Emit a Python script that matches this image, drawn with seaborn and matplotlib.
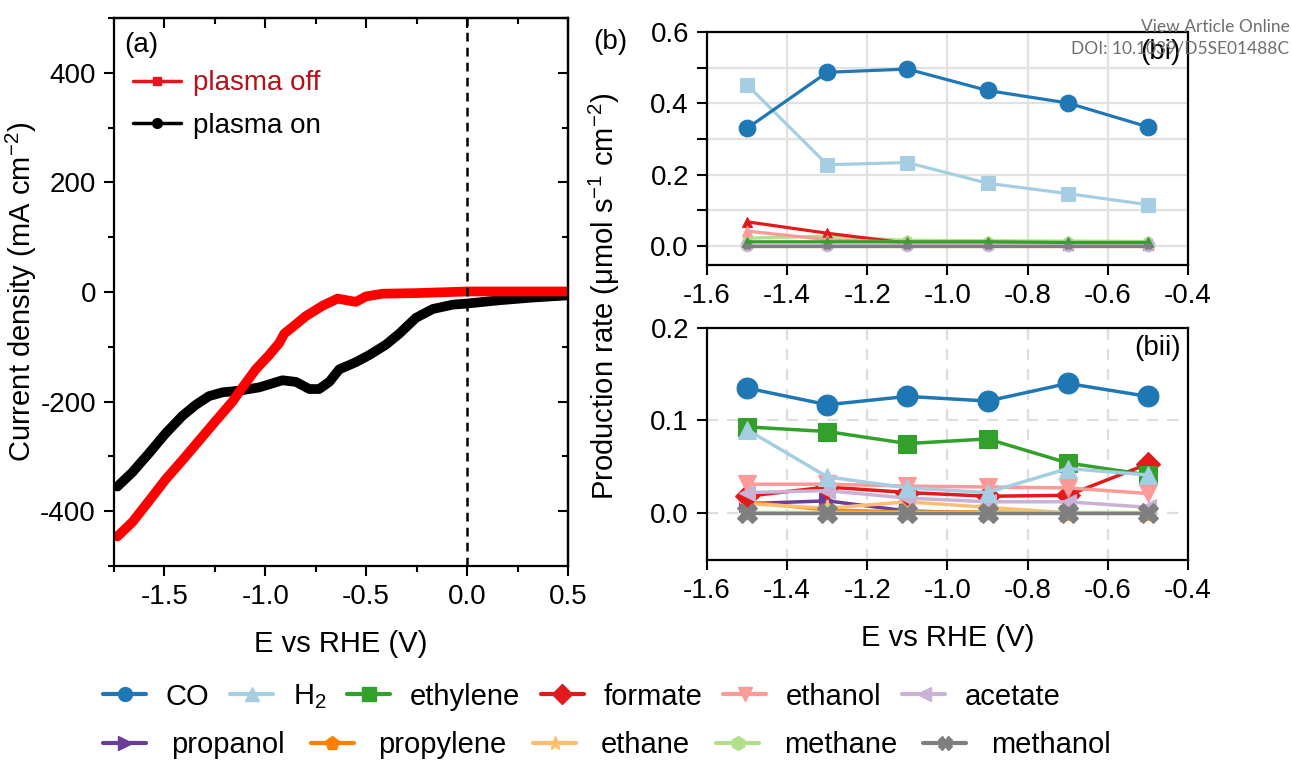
import numpy as np
import pandas as pd
import matplotlib
matplotlib.use("Agg")
import matplotlib.pyplot as plt
import seaborn as sns
from matplotlib.lines import Line2D
from matplotlib.ticker import MultipleLocator

# ---------------- data ----------------
# Panel (a): LSV curves
off_E = [-1.733, -1.659, -1.576, -1.494, -1.411, -1.328, -1.245, -1.163, -1.113, -1.047,
         -0.981, -0.931, -0.906, -0.865, -0.799, -0.716, -0.642, -0.551, -0.501, -0.418,
         -0.253, 0.0, 0.25, 0.5]
off_j = [-446, -420, -381, -342, -307, -271, -235, -200, -174, -141,
         -115, -93, -76, -64, -44, -25, -12, -18, -8, -3,
         -2, 1, 1, 1]
on_E = [-1.733, -1.659, -1.576, -1.494, -1.411, -1.345, -1.279, -1.212, -1.130, -1.030,
        -0.915, -0.848, -0.782, -0.733, -0.683, -0.633, -0.551, -0.485, -0.402, -0.336,
        -0.253, -0.170, -0.071, 0.0, 0.160, 0.326, 0.5]
on_j = [-355, -329, -294, -258, -226, -206, -190, -183, -180, -174,
        -161, -164, -177, -177, -164, -141, -128, -115, -96, -76,
        -47, -31, -23, -21, -15, -10, -6]

# Panel (b): production rates
E_b = [-1.5, -1.3, -1.1, -0.9, -0.7, -0.5]
products = ["CO", "H2", "ethylene", "formate", "ethanol", "acetate",
            "propanol", "propylene", "ethane", "methane", "methanol"]
labels = ["CO", "H$_2$", "ethylene", "formate", "ethanol", "acetate",
          "propanol", "propylene", "ethane", "methane", "methanol"]

bi_CO = [0.330, 0.487, 0.496, 0.436, 0.401, 0.334]
bi_H2 = [0.452, 0.228, 0.234, 0.176, 0.147, 0.116]
bi_ethylene = [0.012, 0.012, 0.012, 0.012, 0.010, 0.010]
bi_formate = [0.068, 0.036, 0.008, 0.006, 0.003, 0.004]
bi_ethanol = [0.042, 0.018, 0.010, 0.008, 0.006, 0.005]
bi_acetate = [0.003, 0.003, 0.003, 0.003, 0.003, 0.003]
bi_propanol = [0.002, 0.002, 0.002, 0.002, 0.002, 0.002]
bi_propylene = [0.001, 0.001, 0.001, 0.001, 0.001, 0.001]
bi_ethane = [0.002, 0.002, 0.002, 0.002, 0.002, 0.002]
bi_methane = [0.022, 0.028, 0.016, 0.015, 0.014, 0.013]
bi_methanol = [0.0, 0.0, 0.0, 0.0, 0.0, 0.0]

bii_CO = [0.135, 0.117, 0.126, 0.121, 0.140, 0.126]
bii_H2 = [0.090, 0.039, 0.027, 0.022, 0.048, 0.041]
bii_ethylene = [0.093, 0.088, 0.075, 0.080, 0.054, 0.041]
bii_formate = [0.018, 0.028, 0.022, 0.018, 0.019, 0.053]
bii_ethanol = [0.031, 0.031, 0.029, 0.028, 0.027, 0.021]
bii_acetate = [0.022, 0.024, 0.016, 0.012, 0.012, 0.006]
bii_propanol = [0.010, 0.013, 0.002, 0.0, 0.0, 0.0]
bii_propylene = [0.012, 0.003, 0.001, 0.001, 0.0, 0.0]
bii_ethane = [0.010, 0.005, 0.012, 0.006, 0.0, 0.0]
bii_methane = [0.001, 0.001, 0.001, 0.001, 0.001, 0.001]
bii_methanol = [0.0, 0.0, 0.0, 0.0, 0.0, 0.0]

bi_vals = [bi_CO, bi_H2, bi_ethylene, bi_formate, bi_ethanol, bi_acetate,
           bi_propanol, bi_propylene, bi_ethane, bi_methane, bi_methanol]
bii_vals = [bii_CO, bii_H2, bii_ethylene, bii_formate, bii_ethanol, bii_acetate,
            bii_propanol, bii_propylene, bii_ethane, bii_methane, bii_methanol]

colors = ["#1f78b4", "#a6cee3", "#33a02c", "#e31a1c", "#fb9a99", "#cab2d6",
          "#6a3d9a", "#ff7f00", "#fdbf6f", "#b2df8a", "#7f7f7f"]
markers = ["o", "^", "s", "D", "v", "<", ">", "p", "*", "h", "X"]
bi_markers = ["o", "s", "^", "^", "^", "o", ">", "p", "*", "h", "X"]
bii_ms = [15, 13, 13, 12, 13, 12, 11, 12, 14, 11, 15]
bi_ms = [12, 10, 7, 7, 7, 9, 5, 5, 5, 7, 5]

# ---------------- style ----------------
sns.set_theme(style="ticks")
plt.rcParams['font.family'] = ['Liberation Sans', 'DejaVu Sans']
plt.rcParams['mathtext.fontset'] = 'custom'
plt.rcParams['mathtext.rm'] = 'Liberation Sans'
plt.rcParams['mathtext.it'] = 'Liberation Sans:italic'
plt.rcParams['mathtext.bf'] = 'Liberation Sans:bold'
plt.rcParams['axes.unicode_minus'] = False
plt.rcParams['axes.linewidth'] = 1.6
plt.rcParams['axes.edgecolor'] = 'black'
plt.rcParams['text.color'] = 'black'
plt.rcParams['axes.labelcolor'] = 'black'
plt.rcParams['xtick.color'] = 'black'
plt.rcParams['ytick.color'] = 'black'

FS_TICK = 20
FS_LAB = 21

fig = plt.figure(figsize=(12.92, 7.61), dpi=100)
axA = fig.add_axes([0.0882, 0.2562, 0.3514, 0.7201])
axB1 = fig.add_axes([0.5472, 0.6518, 0.3723, 0.3062])
axB2 = fig.add_axes([0.5472, 0.2641, 0.3723, 0.3049])

# ---------------- panel (a) ----------------
dfA = pd.DataFrame({"E": on_E + off_E, "j": on_j + off_j,
                    "state": ["plasma on"] * len(on_E) + ["plasma off"] * len(off_E)})
sns.lineplot(data=dfA[dfA.state == "plasma on"], x="E", y="j", ax=axA, color="black",
             lw=7, estimator=None, sort=False, solid_capstyle="round", solid_joinstyle="round")
sns.lineplot(data=dfA[dfA.state == "plasma off"], x="E", y="j", ax=axA, color="#ff0000",
             lw=7, estimator=None, sort=False, solid_capstyle="round", solid_joinstyle="round")
axA.axvline(0, color="black", ls=(0, (3.5, 2.5)), lw=1.8)
axA.set_xlim(-1.75, 0.5)
axA.set_ylim(-500, 500)
axA.xaxis.set_major_locator(MultipleLocator(0.5))
axA.xaxis.set_minor_locator(MultipleLocator(0.25))
axA.yaxis.set_major_locator(MultipleLocator(200))
axA.yaxis.set_minor_locator(MultipleLocator(100))
axA.tick_params(which="both", direction="out", width=1.5, labelsize=FS_TICK, pad=6)
axA.tick_params(which="major", length=7)
axA.tick_params(which="minor", length=4)
axA.set_xticklabels([f"{v:.1f}" for v in axA.get_xticks()])
axA.set_xlabel("E vs RHE (V)", fontsize=FS_LAB, labelpad=14)
axA.set_ylabel("Current density (mA cm$^{-2}$)", fontsize=FS_LAB, labelpad=1)
secx = axA.secondary_xaxis("top")
secx.xaxis.set_major_locator(MultipleLocator(0.5))
secx.xaxis.set_minor_locator(MultipleLocator(0.25))
secx.tick_params(which="both", direction="in", width=1.5, labeltop=False)
secx.tick_params(which="major", length=7)
secx.tick_params(which="minor", length=4)
secy = axA.secondary_yaxis("right")
secy.yaxis.set_major_locator(MultipleLocator(200))
secy.yaxis.set_minor_locator(MultipleLocator(100))
secy.tick_params(which="both", direction="in", width=1.5, labelright=False)
secy.tick_params(which="major", length=7)
secy.tick_params(which="minor", length=4)

handlesA = [Line2D([0], [0], color="#e8141b", marker="s", ms=6, lw=2.5),
            Line2D([0], [0], color="black", marker="o", ms=7, lw=2.5)]
legA = axA.legend(handlesA, ["plasma off", "plasma on"], loc="upper left",
                  bbox_to_anchor=(0.0, 0.94), frameon=False, fontsize=FS_TICK,
                  handlelength=1.7, handletextpad=0.45, labelspacing=0.6, borderaxespad=0.3)
legA.get_texts()[0].set_color("#b3121c")
axA.text(0.022, 0.975, "(a)", transform=axA.transAxes, fontsize=FS_TICK, va="top", ha="left")

# ---------------- panel (b) ----------------
rows = []
for p, v1, v2 in zip(products, bi_vals, bii_vals):
    for e, a, b in zip(E_b, v1, v2):
        rows.append({"E": e, "product": p, "bi": a, "bii": b})
dfB = pd.DataFrame(rows)

zorders = [12, 11, 10, 9, 9, 9, 8, 8, 8, 8, 13]
for i, p in enumerate(products):
    sub = dfB[dfB["product"] == p]
    sns.lineplot(data=sub, x="E", y="bi", ax=axB1, color=colors[i], marker=bi_markers[i],
                 ms=bi_ms[i], lw=2.3, markeredgecolor=colors[i], markeredgewidth=0.8,
                 estimator=None, zorder=zorders[i] if i > 1 else 14 - i)
    sns.lineplot(data=sub, x="E", y="bii", ax=axB2, color=colors[i], marker=markers[i],
                 ms=bii_ms[i], lw=2.5, markeredgecolor=colors[i], markeredgewidth=0.8,
                 estimator=None, zorder=zorders[i] if i != 1 else 10.5)

for ax in (axB1, axB2):
    ax.set_xlim(-1.6, -0.4)
    ax.xaxis.set_major_locator(MultipleLocator(0.2))
    ax.set_xticklabels([f"{v:.1f}" for v in ax.get_xticks()])
    ax.tick_params(which="both", direction="out", width=1.5, length=7,
                   labelsize=FS_TICK, pad=6)
    ax.set_ylabel("")
    ax.set_axisbelow(True)

axB1.set_ylim(-0.053, 0.6)
axB1.yaxis.set_major_locator(MultipleLocator(0.2))
axB1.yaxis.set_minor_locator(MultipleLocator(0.1))
axB1.set_yticklabels([f"{v:.1f}" for v in axB1.get_yticks()])
axB1.grid(which="major", color="#e2e2e2", lw=1.6)
axB1.grid(which="minor", axis="y", color="#e2e2e2", lw=1.6)
axB1.set_xlabel("")
axB1.text(0.985, 0.97, "(bi)", transform=axB1.transAxes, fontsize=FS_TICK, ha="right", va="top")

axB2.set_ylim(-0.051, 0.2)
axB2.yaxis.set_major_locator(MultipleLocator(0.1))
axB2.set_yticklabels([f"{v:.1f}" for v in axB2.get_yticks()])
axB2.grid(which="major", color="#dddddd", lw=1.6, ls=(0, (5, 4)))
axB2.set_xlabel("E vs RHE (V)", fontsize=FS_LAB, labelpad=14)
axB2.text(0.985, 0.97, "(bii)", transform=axB2.transAxes, fontsize=FS_TICK, ha="right", va="top")

fig.text(0.468, 0.61, "Production rate (μmol s$^{-1}$ cm$^{-2}$)", rotation=90,
         fontsize=FS_LAB, ha="center", va="center")
fig.text(0.459, 0.945, "(b)", fontsize=FS_TICK, ha="left", va="center")

# ---------------- bottom legend ----------------
handles = [Line2D([0], [0], color=c, marker=m, ms=10, lw=3, markeredgecolor=c)
           for c, m in zip(colors, markers)]
FS_LEG = 21
common = dict(frameon=False, fontsize=FS_LEG, handlelength=1.47,
              borderaxespad=0, borderpad=0, loc="center left")
fig.legend(handles[:6], labels[:6], ncol=6, bbox_to_anchor=(0.080, 1 - 697 / 761),
           handletextpad=0.67, columnspacing=0.72, **common)
fig.legend(handles[6:], labels[6:], ncol=5, bbox_to_anchor=(0.080, 1 - 745 / 761),
           handletextpad=0.85, columnspacing=0.9, **common)

# ---------------- watermark ----------------
fig.text(0.998, 1 - 27 / 761, "View Article Online", fontsize=12.5, color="#6e6e6e",
         ha="right", va="center", family=["Lato", "DejaVu Sans"])
fig.text(0.998, 1 - 48 / 761, "DOI: 10.1039/D5SE01488C", fontsize=12.5, color="#6e6e6e",
         ha="right", va="center", family=["Lato", "DejaVu Sans"])

fig.savefig("out.png", dpi=100)
